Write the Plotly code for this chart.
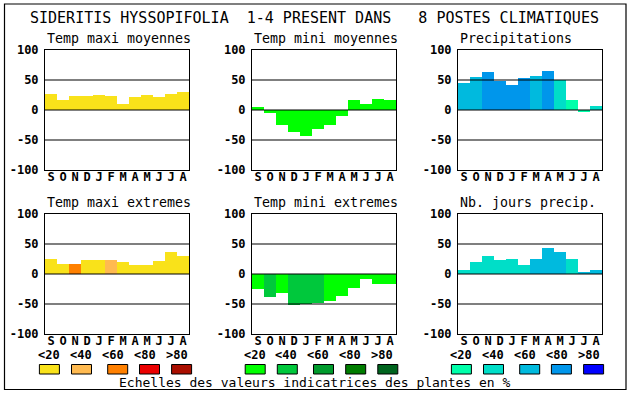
import plotly.graph_objects as go

W, H = 630, 394

# ---------------- data ----------------
title_text = "SIDERITIS HYSSOPIFOLIA  1-4 PRESENT DANS   8 POSTES CLIMATIQUES"
months = ["S", "O", "N", "D", "J", "F", "M", "A", "M", "J", "J", "A"]

panel_titles = ["Temp maxi moyennes", "Temp mini moyennes", "Precipitations",
                "Temp maxi extremes", "Temp mini extremes", "Nb. jours precip."]

temp_maxi_moy = [27, 17, 24, 24, 25.5, 24, 10.5, 22, 25.5, 22, 27, 30.5]
temp_mini_moy = [5.5, -5.5, -25.5, -37, -44, -32, -24.5, -10.5, 16, 10.5, 18, 16]
precipitations = [44.5, 55.5, 63, 48, 42, 54, 57, 64.5, 50, 16, -4, 7]
temp_maxi_ext = [25, 16.7, 16.7, 23.3, 23.3, 23.3, 20, 15, 15, 21.7, 36.7, 30]
temp_mini_ext = [-25, -38.3, -31.7, -52, -50, -48.3, -45, -36.7, -23.3, -8.3, -16.7, -16.7]
nb_jours_precip = [6.7, 20, 30, 23.3, 25, 15, 25, 43.3, 36.7, 25, 3.3, 6.7]

# colour class (0..4) of each bar
cls_temp_maxi_moy = [0] * 12
cls_temp_mini_moy = [0] * 12
cls_precipitations = [2, 2, 3, 3, 3, 3, 2, 3, 1, 0, 0, 1]
cls_temp_maxi_ext = [0, 0, 2, 0, 0, 1, 0, 0, 0, 0, 0, 0]
cls_temp_mini_ext = [0, 1, 0, 1, 1, 1, 0, 0, 0, 0, 0, 0]
cls_nb_jours_precip = [1, 1, 1, 1, 1, 1, 2, 2, 2, 1, 2, 2]

palette_hot = ["#F9E21A", "#FFBA50", "#FF8000", "#EB0000", "#AA0F00"]
palette_green = ["#00FF00", "#00C83C", "#009B2D", "#007D00", "#00641E"]
palette_blue = ["#00FFAA", "#00DEC8", "#00BADE", "#0096EB", "#0000FF"]

legend_labels = ["<20", "<40", "<60", "<80", ">80"]
ytick_vals = [-100, -50, 0, 50, 100]
grid_vals = [-50, 0, 50]
footer_text = "Echelles des valeurs indicatrices des plantes en %"

values = [temp_maxi_moy, temp_mini_moy, precipitations,
          temp_maxi_ext, temp_mini_ext, nb_jours_precip]
classes = [cls_temp_maxi_moy, cls_temp_mini_moy, cls_precipitations,
           cls_temp_maxi_ext, cls_temp_mini_ext, cls_nb_jours_precip]
palettes = [palette_hot, palette_green, palette_blue] * 2

# ---------------- layout geometry (pixels) ----------------
col_x = [(45, 189), (252, 396), (458, 602)]
row_y = [(50, 170), (214, 334)]
title_y = [38.7, 202.7]


def px(x):
    return x / W


def py(y):
    return 1 - y / H


MONO = "DejaVu Sans Mono"
fig = go.Figure()
layout = dict(
    template="none",
    width=W, height=H,
    margin=dict(l=0, r=0, t=0, b=0, pad=0, autoexpand=False),
    paper_bgcolor="white", plot_bgcolor="white",
    showlegend=False,
    font=dict(family=MONO, color="black"),
    bargap=0,
)
shapes = []
annotations = []

for i in range(6):
    r, c = divmod(i, 3)
    n = i + 1
    xa = "x" if n == 1 else f"x{n}"
    ya = "y" if n == 1 else f"y{n}"
    pal = palettes[i]
    fig.add_trace(go.Bar(
        x=list(range(12)), y=values[i],
        marker=dict(color=[pal[k] for k in classes[i]], line=dict(width=0)),
        width=1.0, xaxis=xa, yaxis=ya, hoverinfo="skip",
    ))
    x0, x1 = col_x[c]
    y0, y1 = row_y[r]
    layout["xaxis" if n == 1 else f"xaxis{n}"] = dict(
        domain=[px(x0), px(x1)], anchor=ya, range=[-0.5, 11.5],
        tickvals=list(range(12)), ticktext=months, showgrid=False,
        zeroline=False, showline=True, mirror=True, linecolor="black",
        linewidth=1, ticks="", fixedrange=True, automargin=False,
        ticklabelstandoff=-4,
        tickfont=dict(family=MONO, size=12, color="black", weight="bold"),
    )
    layout["yaxis" if n == 1 else f"yaxis{n}"] = dict(
        domain=[py(y1), py(y0)], anchor=xa, range=[-100, 100],
        tickvals=ytick_vals, ticktext=[str(v) for v in ytick_vals],
        showgrid=False, zeroline=False, showline=True, mirror=True,
        linecolor="black", linewidth=1, ticks="", fixedrange=True, automargin=False,
        ticklabelstandoff=3,
        tickfont=dict(family=MONO, size=12, color="black", weight="bold"),
    )
    for g in grid_vals:
        shapes.append(dict(type="line", xref=f"{xa} domain", yref=ya,
                           x0=0, x1=1, y0=g, y1=g, layer="above",
                           line=dict(color="black", width=1.2)))
    annotations.append(dict(
        text=panel_titles[i], xref="paper", yref="paper",
        x=px(x0), y=py(title_y[r]), xanchor="left", yanchor="middle",
        showarrow=False, font=dict(family=MONO, size=13.3, color="black"),
    ))

# main title
annotations.append(dict(text=title_text.replace(" ", "&nbsp;"), xref="paper", yref="paper",
                        x=px(314), y=py(18), xanchor="center", yanchor="middle",
                        showarrow=False, font=dict(family=MONO, size=15, color="black")))

# legend
box_left = [[39.4, 71.5, 107.7, 139.5, 171.6],
            [245.2, 277.3, 313.5, 345.7, 377.8],
            [451.4, 483.5, 519.7, 551.4, 583.6]]
label_cx = [[49, 80.5, 112.5, 144.7, 177],
            [254.5, 286, 318, 350, 382.5],
            [461.4, 493, 525, 557, 589]]
for g, pal in enumerate([palette_hot, palette_green, palette_blue]):
    for k in range(5):
        bx = box_left[g][k]
        shapes.append(dict(type="rect", xref="paper", yref="paper",
                           x0=px(bx), x1=px(bx + 20), y0=py(374), y1=py(364.5),
                           fillcolor=pal[k], line=dict(color="black", width=1)))
        annotations.append(dict(text=legend_labels[k].replace("<", "&lt;").replace(">", "&gt;"),
                                xref="paper", yref="paper",
                                x=px(label_cx[g][k]), y=py(355), xanchor="center",
                                yanchor="middle", showarrow=False,
                                font=dict(family=MONO, size=12, color="black", weight="bold")))

annotations.append(dict(text=footer_text, xref="paper", yref="paper",
                        x=px(315), y=py(382.5), xanchor="center", yanchor="middle",
                        showarrow=False, font=dict(family=MONO, size=13, color="black")))

# outer frame
shapes.append(dict(type="rect", xref="paper", yref="paper",
                   x0=px(4.5), x1=px(626), y0=py(389.5), y1=py(4),
                   line=dict(color="black", width=1.2), layer="below"))

layout["shapes"] = shapes
layout["annotations"] = annotations
fig.update_layout(**layout)
fig.write_html("out.html",
               config={"displayModeBar": False, "staticPlot": True},
               post_script="document.body.style.margin='0';document.body.style.overflow='hidden';")
